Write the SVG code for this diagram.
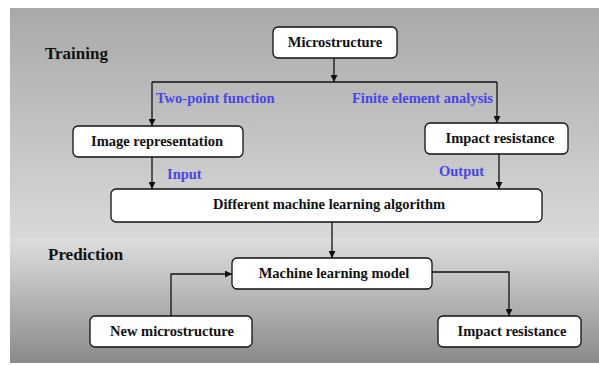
<svg xmlns="http://www.w3.org/2000/svg" width="599" height="365" viewBox="0 0 599 365">
<defs>
<linearGradient id="gTrain" x1="0" y1="0" x2="0" y2="1">
<stop offset="0" stop-color="#a9a9a9"/>
<stop offset="1" stop-color="#d9d9d9"/>
</linearGradient>
<linearGradient id="gPred" x1="0" y1="0" x2="0" y2="1">
<stop offset="0" stop-color="#dedede"/>
<stop offset="1" stop-color="#8a8a8a"/>
</linearGradient>
<marker id="arr" viewBox="0 0 10 10" refX="10" refY="5" markerWidth="7" markerHeight="7" markerUnits="userSpaceOnUse" orient="auto">
<path d="M0,0 L10,5 L0,10 Z" fill="#111"/>
</marker>
<style>
.box{fill:#fff;stroke:#111;stroke-width:1.3}
.t{font-family:"Liberation Serif","Times New Roman",serif;font-weight:bold;font-size:14.5px;fill:#111;text-anchor:middle}
.h{font-family:"Liberation Serif","Times New Roman",serif;font-weight:bold;font-size:17px;fill:#111}
.b{font-family:"Liberation Serif","Times New Roman",serif;font-weight:bold;font-size:14.5px;fill:#4646ea}
.c{fill:none;stroke:#111;stroke-width:1.3}
</style>
</defs>
<rect x="0" y="0" width="599" height="365" fill="#fff"/>
<rect x="10" y="8" width="589" height="230" fill="url(#gTrain)"/>
<rect x="10" y="238" width="589" height="125" fill="url(#gPred)"/>
<text class="h" x="45" y="59">Training</text>
<text class="h" x="48" y="260">Prediction</text>
<g id="connectors">
<path class="c" d="M334,58 V82" marker-end="url(#arr)"/>
<path class="c" d="M152,82 H497"/>
<path class="c" d="M152,82 V126" marker-end="url(#arr)"/>
<path class="c" d="M497,82 V123" marker-end="url(#arr)"/>
<path class="c" d="M152,157 V189" marker-end="url(#arr)"/>
<path class="c" d="M499,154 V189" marker-end="url(#arr)"/>
<path class="c" d="M332,222 V258" marker-end="url(#arr)"/>
<path class="c" d="M171,316 V274 H232" marker-end="url(#arr)"/>
<path class="c" d="M432,272 H509 V316" marker-end="url(#arr)"/>
<text class="b" x="156" y="103">Two-point function</text>
<text class="b" x="352" y="103">Finite element analysis</text>
<text class="b" x="167" y="179">Input</text>
<text class="b" x="439" y="176">Output</text>
</g>
<g id="microstructure">
<rect class="box" x="273" y="27" width="124" height="31" rx="5"/>
<text class="t" x="335" y="47">Microstructure</text>
</g>
<g id="image-representation">
<rect class="box" x="73" y="126" width="170" height="31" rx="5"/>
<text class="t" x="157" y="146">Image representation</text>
</g>
<g id="impact-resistance-train">
<rect class="box" x="425" y="123" width="143" height="31" rx="5"/>
<text class="t" x="500" y="143">Impact resistance</text>
</g>
<g id="ml-algorithm">
<rect class="box" x="111" y="189" width="431" height="33" rx="5"/>
<text class="t" x="329" y="209">Different machine learning algorithm</text>
</g>
<g id="ml-model">
<rect class="box" x="232" y="258" width="200" height="31" rx="5"/>
<text class="t" x="334" y="278">Machine learning model</text>
</g>
<g id="new-microstructure">
<rect class="box" x="90" y="316" width="162" height="31" rx="5"/>
<text class="t" x="172" y="336">New microstructure</text>
</g>
<g id="impact-resistance-pred">
<rect class="box" x="438" y="316" width="143" height="31" rx="5"/>
<text class="t" x="512" y="336">Impact resistance</text>
</g>
</svg>
